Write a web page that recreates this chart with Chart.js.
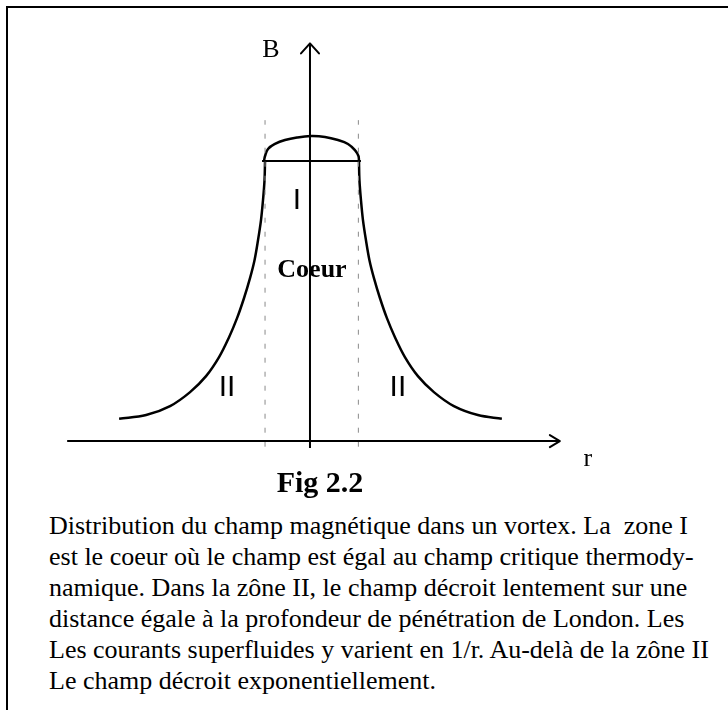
<!DOCTYPE html>
<html lang="fr">
<head>
<meta charset="utf-8">
<title>Fig 2.2 - champ dans un vortex</title>
<script src="https://cdn.jsdelivr.net/npm/chart.js@4/dist/chart.umd.min.js"></script>
<style>
  html, body { margin: 0; padding: 0; background: #fff; overflow: hidden; }
  body { width: 728px; height: 710px; position: relative; }
  #frame {
    position: absolute; left: 6px; top: 6px; right: -10px; bottom: -10px;
    border-left: 2px solid #000; border-top: 2px solid #000;
  }
  #vortex { position: absolute; left: 0; top: 0; }
  #caption {
    position: absolute; left: 49px; top: 510px; margin: 0;
    font: 26px/31px "Liberation Serif", "DejaVu Serif", serif;
    color: #000; white-space: nowrap;
  }
</style>
</head>
<body>
<div id="frame"></div>
<canvas id="vortex" width="728" height="510"></canvas>
<p id="caption">Distribution du champ magnétique dans un vortex. La&nbsp; zone I<br>
est le coeur où le champ est égal au champ critique thermody-<br>
namique. Dans la zône II, le champ décroit lentement sur une<br>
distance égale à la profondeur de pénétration de London. Les<br>
Les courants superfluides y varient en 1/r. Au-delà de la zône II<br>
Le champ décroit exponentiellement.</p>

<script>
// r in units of the core radius, B in units of the critical field

// field profile, zone II (same B levels on both sides)
const curveB      = [1.0, 0.932, 0.861, 0.789, 0.718, 0.646, 0.582, 0.511, 0.439, 0.371, 0.300, 0.232, 0.175, 0.125, 0.093, 0.080];
const curveLeftR  = [-0.957, -0.968, -1.000, -1.043, -1.106, -1.181, -1.277, -1.404, -1.553, -1.723, -1.936, -2.213, -2.553, -2.979, -3.489, -4.064];
const curveRightR = [1.043, 1.053, 1.085, 1.128, 1.191, 1.266, 1.362, 1.489, 1.638, 1.809, 2.021, 2.298, 2.638, 3.064, 3.574, 4.085];

// rounded cap over the core (zone I)
const domeR = [-0.979, -0.957, -0.894, -0.745, -0.532, -0.277, 0.021, 0.319, 0.596, 0.809, 0.957, 1.032, 1.043];
const domeB = [1.0, 1.018, 1.043, 1.061, 1.075, 1.084, 1.089, 1.086, 1.075, 1.061, 1.039, 1.018, 1.0];

// flat top of the core
const plateauR = [-1.021, 1.085];
const plateauB = [1.0, 1.0];

// core boundaries (dashed)
const coreEdgeR = [-0.957, 1.03];
const coreEdgeB = [-0.02, 1.146];

// axes
const axisR = [-5.17, 5.32];
const axisB = [-0.025, 1.42];

// text placed in data space
const labels = [
  { text: 'B',       r: -0.83,  b: 1.396,  font: '26px "Liberation Serif"' },
  { text: 'r',       r: 5.915,  b: -0.064, font: '26px "Liberation Serif"' },
  { text: 'I',       r: -0.277, b: 0.857,  font: '30px "Liberation Sans"' },
  { text: 'Coeur',   r: 0.043,  b: 0.611,  font: 'bold 26px "Liberation Serif"' },
  { text: 'II',      r: -1.766, b: 0.189,  font: '30px "Liberation Sans"' },
  { text: 'II',      r: 1.872,  b: 0.189,  font: '30px "Liberation Sans"' },
  { text: 'Fig 2.2', r: 0.213,  b: -0.154, font: 'bold 30px "Liberation Serif"' }
];

const pts = (xs, ys) => xs.map((x, i) => ({ x, y: ys[i] }));

function lineSet(data, extra) {
  return Object.assign({
    data, showLine: true, pointRadius: 0, borderColor: '#000',
    borderWidth: 2, tension: 0, fill: false
  }, extra || {});
}

// arrow heads on the axis ends + the text labels
const decorations = {
  id: 'decorations',
  afterDatasetsDraw(chart) {
    const { ctx, scales: { x, y } } = chart;
    ctx.save();
    ctx.strokeStyle = '#000';
    ctx.lineWidth = 2;
    ctx.lineCap = 'round';
    ctx.lineJoin = 'round';

    // vertical arrow (B)
    const vx = x.getPixelForValue(0), vy = y.getPixelForValue(axisB[1]);
    ctx.beginPath();
    ctx.moveTo(vx - 9, vy + 10);
    ctx.lineTo(vx, vy);
    ctx.lineTo(vx + 9, vy + 10);
    ctx.stroke();

    // horizontal arrow (r)
    const hx = x.getPixelForValue(axisR[1]), hy = y.getPixelForValue(0);
    ctx.beginPath();
    ctx.moveTo(hx - 10, hy - 6);
    ctx.lineTo(hx, hy);
    ctx.lineTo(hx - 10, hy + 6);
    ctx.stroke();

    ctx.fillStyle = '#000';
    ctx.textAlign = 'center';
    ctx.textBaseline = 'middle';
    for (const l of labels) {
      ctx.font = l.font;
      ctx.fillText(l.text, x.getPixelForValue(l.r), y.getPixelForValue(l.b));
    }
    ctx.restore();
  }
};

new Chart(document.getElementById('vortex'), {
  type: 'scatter',
  data: {
    datasets: [
      lineSet(pts(axisR, [0, 0])),
      lineSet(pts([0, 0], axisB)),
      lineSet(pts([coreEdgeR[0], coreEdgeR[0]], coreEdgeB), { borderColor: '#8a8a8a', borderWidth: 1, borderDash: [5, 9] }),
      lineSet(pts([coreEdgeR[1], coreEdgeR[1]], coreEdgeB), { borderColor: '#8a8a8a', borderWidth: 1, borderDash: [5, 9] }),
      lineSet(pts(plateauR, plateauB)),
      lineSet(pts(domeR, domeB), { tension: 0.4, borderWidth: 2.5 }),
      lineSet(pts(curveLeftR, curveB), { tension: 0.35, borderWidth: 2.5 }),
      lineSet(pts(curveRightR, curveB), { tension: 0.35, borderWidth: 2.5 })
    ]
  },
  options: {
    responsive: false,
    animation: false,
    devicePixelRatio: 1,
    layout: { padding: 0 },
    plugins: { legend: { display: false }, tooltip: { enabled: false } },
    scales: {
      x: { type: 'linear', display: false, min: -6.6, max: 8.9 },
      y: { type: 'linear', display: false, min: -0.246, max: 1.575 }
    }
  },
  plugins: [decorations]
});
</script>
</body>
</html>
